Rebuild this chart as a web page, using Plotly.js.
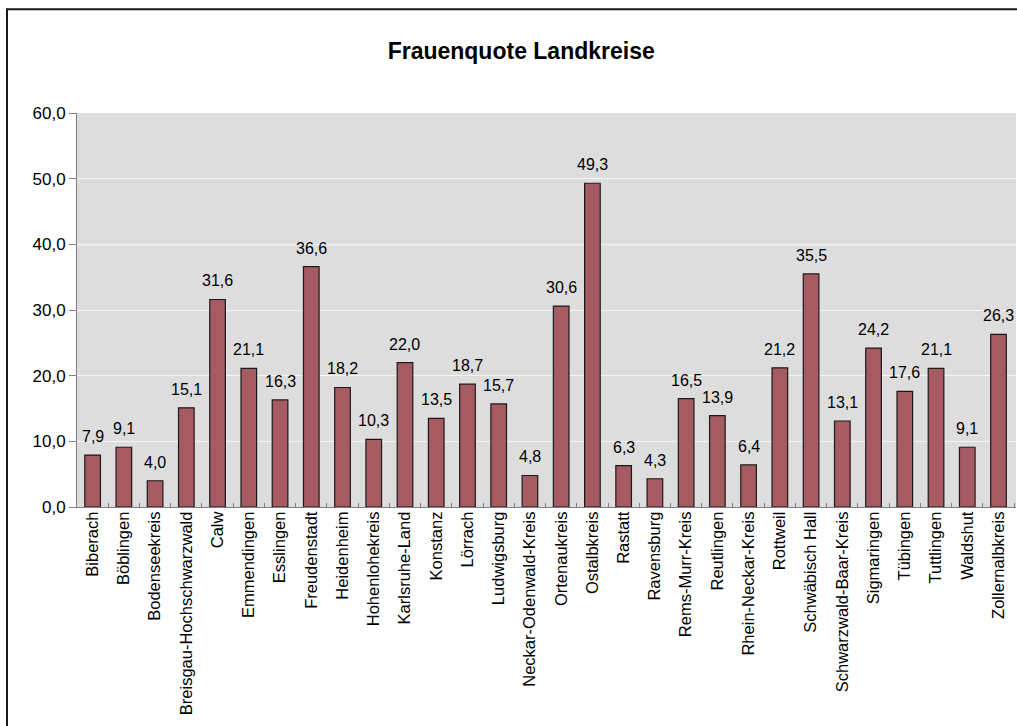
<!DOCTYPE html>
<html>
<head>
<meta charset="utf-8">
<script src="https://cdn.plot.ly/plotly-3.0.1.min.js"></script>
<style>
html,body{margin:0;padding:0;background:#fff;}
#chart{width:1017px;height:726px;}
</style>
</head>
<body>
<div id="chart"></div>
<script>
const categories = ["Biberach","Böblingen","Bodenseekreis","Breisgau-Hochschwarzwald","Calw","Emmendingen","Esslingen","Freudenstadt","Heidenheim","Hohenlohekreis","Karlsruhe-Land","Konstanz","Lörrach","Ludwigsburg","Neckar-Odenwald-Kreis","Ortenaukreis","Ostalbkreis","Rastatt","Ravensburg","Rems-Murr-Kreis","Reutlingen","Rhein-Neckar-Kreis","Rottweil","Schwäbisch Hall","Schwarzwald-Baar-Kreis","Sigmaringen","Tübingen","Tuttlingen","Waldshut","Zollernalbkreis"];
const values = [7.9,9.1,4.0,15.1,31.6,21.1,16.3,36.6,18.2,10.3,22.0,13.5,18.7,15.7,4.8,30.6,49.3,6.3,4.3,16.5,13.9,6.4,21.2,35.5,13.1,24.2,17.6,21.1,9.1,26.3];
const yTicks = [0,10,20,30,40,50,60];
const chartTitle = "Frauenquote Landkreise";

const fontFam = "Arial, 'Liberation Sans', sans-serif";
const fmt = v => v.toFixed(1).replace('.', ',');

const trace = {
  type: 'bar',
  x: categories,
  y: values,
  marker: {color: '#a65a62', line: {color: '#1a1a1a', width: 1.2}},
  hoverinfo: 'none'
};

const annotations = categories.map((c, i) => ({
  x: c, y: values[i], xref: 'x', yref: 'y',
  text: fmt(values[i]), showarrow: false,
  yanchor: 'bottom', yshift: 8,
  font: {family: fontFam, size: 16, color: '#000'}
}));

const layout = {
  width: 1017, height: 726,
  margin: {l: 77, r: 1, t: 113, b: 219},
  paper_bgcolor: '#ffffff',
  plot_bgcolor: '#dddddd',
  separators: ', ',
  showlegend: false,
  bargap: 0.5,
  title: {
    text: '<b>' + chartTitle + '</b>',
    x: 0.5125, xref: 'container', xanchor: 'center',
    y: 1 - 50.5/726, yref: 'container', yanchor: 'middle',
    font: {family: fontFam, size: 23, color: '#000'}
  },
  xaxis: {
    type: 'category',
    tickangle: -90,
    tickson: 'boundaries',
    ticks: 'inside', ticklen: 4, tickcolor: '#808080', tickwidth: 1,
    showline: true, linecolor: '#808080', linewidth: 1,
    showgrid: false,
    ticklabelstandoff: -3,
    tickfont: {family: fontFam, size: 16.5, color: '#000'},
    fixedrange: true
  },
  yaxis: {
    range: [0, 60],
    tickvals: yTicks,
    tickformat: '.1f',
    ticks: 'outside', ticklen: 7, tickcolor: '#808080', tickwidth: 1,
    showline: true, linecolor: '#808080', linewidth: 1,
    showgrid: true, gridcolor: '#f6f6f6', gridwidth: 1,
    zeroline: false,
    tickfont: {family: fontFam, size: 17, color: '#000'},
    fixedrange: true
  },
  annotations: annotations,
  shapes: [{
    type: 'rect', xref: 'paper', yref: 'paper',
    x0: (7 - 77)/939, x1: 1.2, y0: -1, y1: (507 - 10)/393.5,
    line: {color: '#1a1a1a', width: 2}, fillcolor: 'rgba(0,0,0,0)', layer: 'below'
  }]
};

Plotly.newPlot('chart', [trace], layout, {displayModeBar: false, staticPlot: true});
</script>
</body>
</html>
